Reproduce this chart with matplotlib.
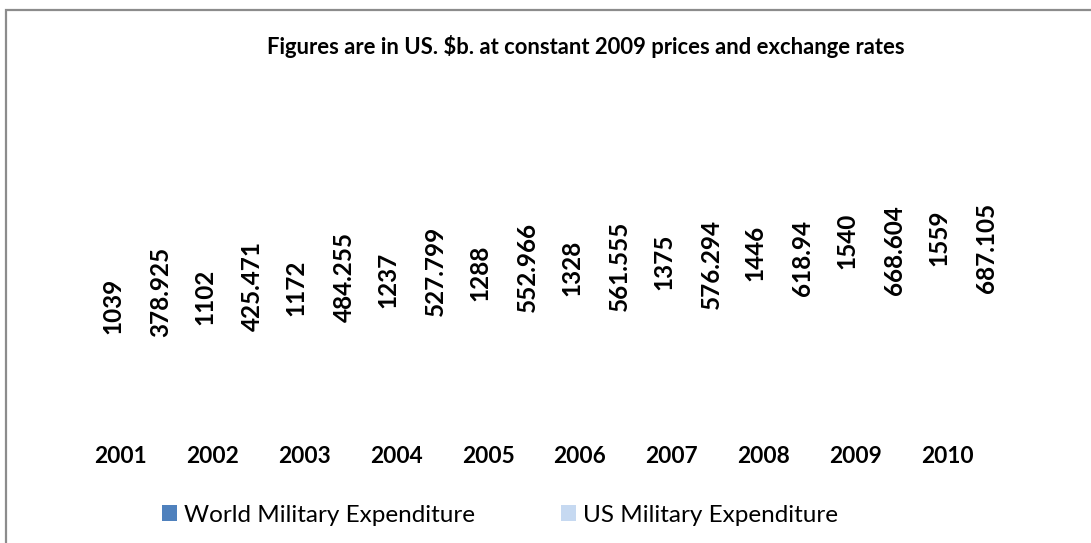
import matplotlib
matplotlib.use("Agg")
import matplotlib.pyplot as plt
from matplotlib.patches import Patch, Rectangle
import numpy as np

years = ["2001", "2002", "2003", "2004", "2005", "2006", "2007", "2008", "2009", "2010"]
world = [1039, 1102, 1172, 1237, 1288, 1328, 1375, 1446, 1540, 1559]
us = [378.925, 425.471, 484.255, 527.799, 552.966, 561.555, 576.294, 618.94, 668.604, 687.105]
title = "Figures are in US. $b. at constant 2009 prices and exchange rates"
series_names = ["World Military Expenditure", "US Military Expenditure"]
colors = ["#4F81BD", "#C6D9F1"]

plt.rcParams['font.family'] = ['Lato', 'DejaVu Sans']

W, H = 1091, 543
fig = plt.figure(figsize=(W / 100, H / 100), dpi=100)

# outer border (top and left visible)
fig.patches.append(Rectangle((6 / W, -0.2), 1.5, (H - 10) / H + 0.2, transform=fig.transFigure,
                             fill=False, ec="#8C8C8C", lw=1.6))

ax = fig.add_axes([75 / W, (H - 440) / H, (993 - 75) / W, 340 / H])
x = np.arange(len(years))
ax.set_xlim(-0.5, len(years) - 0.5)
ax.set_ylim(0, 2625)
ax2 = ax.twinx()
ax2.set_ylim(-641, 1708)

# bars exist but are not visible in the reference
ax.bar(x - 0.09, world, width=0.4, color=colors[0], alpha=0)
ax2.bar(x + 0.43, us, width=0.4, color=colors[1], alpha=0)

for xi, v in zip(x, world):
    ax.text(xi - 0.09, v, f"{v:g}", rotation=90, ha="center", va="center",
            fontsize=17.5, fontweight="bold", color="black")
for xi, v in zip(x, us):
    ax2.text(xi + 0.43, v, f"{v:g}", rotation=90, ha="center", va="center",
             fontsize=17.5, fontweight="bold", color="black")

for a in (ax, ax2):
    for s in a.spines.values():
        s.set_visible(False)
    a.set_yticks([])
ax.set_xticks(x)
ax.set_xticklabels(years, fontsize=16.3, fontweight="bold")
ax.tick_params(axis="x", length=0, pad=4)
ax2.tick_params(axis="x", length=0)

fig.text(586 / W, 1 - 47 / H, title, ha="center", va="center", fontsize=15.8, fontweight="bold")

handles = [Patch(facecolor=c, edgecolor="none") for c in colors]
fig.legend(handles, series_names, loc="center", bbox_to_anchor=(500 / W, 1 - 515 / H), ncol=2,
           frameon=False, fontsize=17.5, handlelength=0.62, handleheight=0.62, handletextpad=0.3,
           columnspacing=3.5)

fig.savefig("out.png", dpi=100, facecolor="white")
